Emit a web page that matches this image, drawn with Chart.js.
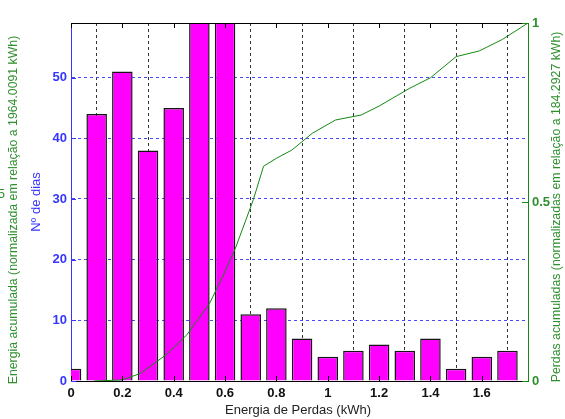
<!DOCTYPE html>
<html><head><meta charset="utf-8">
<script src="https://cdn.jsdelivr.net/npm/chart.js@4.4.1/dist/chart.umd.min.js"></script>
<style>html,body{margin:0;padding:0;background:#fff;}#wrap{width:565px;height:419px;position:relative;}</style>
</head><body><div id="wrap"><canvas id="c" width="565" height="419"></canvas></div>
<script>
// ---- data ----
const binCenters = [0, 0.1, 0.2, 0.3, 0.4, 0.5, 0.6, 0.7, 0.8, 0.9, 1.0, 1.1, 1.2, 1.3, 1.4, 1.5, 1.6, 1.7];
const dayCounts  = [2, 44, 51, 38, 45, 66, 63, 11, 12, 7, 4, 5, 6, 5, 7, 2, 4, 5];
const curveX = [0.09, 0.2, 0.27, 0.37, 0.45, 0.54, 0.59, 0.64, 0.71, 0.75, 0.8, 0.86, 0.94, 1.03, 1.13, 1.2, 1.32, 1.4, 1.5, 1.59, 1.68, 1.78];
const curveY = [0, 0.003, 0.021, 0.073, 0.128, 0.217, 0.291, 0.37, 0.506, 0.6, 0.622, 0.645, 0.692, 0.729, 0.743, 0.768, 0.818, 0.847, 0.906, 0.922, 0.954, 1.0];
const xTicks  = [0, 0.2, 0.4, 0.6, 0.8, 1, 1.2, 1.4, 1.6];
const yTicks  = [0, 10, 20, 30, 40, 50];
const y1Ticks = [0, 0.5, 1];
const xTitle = 'Energia de Perdas (kWh)';
const yTitleBlue = 'Nº de dias';
const yTitleGreen = 'Energia acumulada (normalizada em relação a 1964.0091 kWh)';
const y1Title = 'Perdas acumuladas (normalizadas em relação a 184.2927 kWh)';
const hiddenLeftTick = '0.5';

const FONT = "'Liberation Sans', Arial, sans-serif";
const BLUE = '#3535ff';
const GREEN_TXT = '#2f8f2f';
const GREEN_LINE = '#128a12';

const decor = {
  id: 'decor',
  afterDraw(chart) {
    const {ctx, chartArea: a, scales} = chart;
    ctx.save();
    // top border
    ctx.strokeStyle = '#000'; ctx.lineWidth = 1;
    ctx.beginPath(); ctx.moveTo(a.left, a.top + 0.5); ctx.lineTo(a.right, a.top + 0.5); ctx.stroke();
    // inner tick marks
    ctx.beginPath();
    xTicks.forEach(v => {
      const px = Math.round(scales.x.getPixelForValue(v)) + 0.5;
      ctx.moveTo(px, a.bottom); ctx.lineTo(px, a.bottom - 5);
      ctx.moveTo(px, a.top); ctx.lineTo(px, a.top + 5);
    });
    ctx.stroke();
    ctx.strokeStyle = BLUE; ctx.beginPath();
    yTicks.forEach(v => {
      const py = Math.round(scales.y.getPixelForValue(v)) + 0.5;
      ctx.moveTo(a.left, py); ctx.lineTo(a.left + 5, py);
    });
    ctx.stroke();
    ctx.strokeStyle = GREEN_LINE; ctx.beginPath();
    y1Ticks.forEach(v => {
      const py = Math.round(scales.y1.getPixelForValue(v)) + 0.5;
      ctx.moveTo(a.right, py); ctx.lineTo(a.right - 6, py);
    });
    ctx.stroke();
    // titles
    ctx.textAlign = 'center'; ctx.textBaseline = 'middle';
    ctx.font = '13px ' + FONT;
    ctx.fillStyle = '#222';
    ctx.fillText(xTitle, 298, 410);
    const rot = (txt, x, y, color) => {
      ctx.save(); ctx.translate(x, y); ctx.rotate(-Math.PI / 2);
      ctx.fillStyle = color; ctx.fillText(txt, 0, 0); ctx.restore();
    };
    rot(yTitleBlue, 36, 202, BLUE);
    ctx.font = '12.3px ' + FONT;
    rot(yTitleGreen, 14, 210, GREEN_TXT);
    rot(y1Title, 557, 207, GREEN_TXT);
    // clipped tick label of an off-canvas axis
    ctx.font = '13px ' + FONT;
    ctx.textAlign = 'right'; ctx.fillStyle = GREEN_TXT;
    ctx.fillText(hiddenLeftTick, 5, 194);
    ctx.restore();
  }
};

new Chart(document.getElementById('c'), {
  type: 'bar',
  data: {
    datasets: [
      {
        type: 'line',
        data: curveX.map((x, i) => ({x, y: curveY[i]})),
        xAxisID: 'x', yAxisID: 'y1',
        borderColor: GREEN_LINE, borderWidth: 1,
        pointRadius: 0, tension: 0, fill: false, order: 0
      },
      {
        type: 'bar',
        data: binCenters.map((x, i) => ({x, y: dayCounts[i]})),
        xAxisID: 'x', yAxisID: 'y',
        backgroundColor: '#ff00ff', borderColor: '#151515', borderWidth: 1.5,
        barPercentage: 0.8, categoryPercentage: 1.0, order: 1
      }
    ]
  },
  options: {
    responsive: false, animation: false, devicePixelRatio: 1,
    layout: {padding: {top: 23, left: 0, right: 0, bottom: 0}},
    plugins: {legend: {display: false}, tooltip: {enabled: false}},
    scales: {
      x: {
        type: 'linear', position: 'bottom', min: 0, max: 1.78, offset: false,
        afterBuildTicks: s => { s.ticks = xTicks.map(v => ({value: v})); },
        afterFit: s => { s.height = 38; },
        ticks: {font: {family: FONT, size: 13, weight: 'bold'}, color: '#111', padding: 5,
                maxRotation: 0, autoSkip: false, callback: v => String(v)},
        grid: {color: c => (c.tick && c.tick.value === 0) ? 'rgba(0,0,0,0)' : '#333', lineWidth: 1, drawTicks: false},
        border: {color: '#000', width: 1, dash: [3, 3]}
      },
      y: {
        type: 'linear', position: 'left', min: 0, max: 59,
        afterBuildTicks: s => { s.ticks = yTicks.map(v => ({value: v})); },
        afterFit: s => { s.width = 71; },
        ticks: {font: {family: FONT, size: 13, weight: 'bold'}, color: BLUE, padding: 4, callback: v => String(v)},
        grid: {color: c => (c.tick && c.tick.value === 0) ? 'rgba(0,0,0,0)' : '#4848ff', lineWidth: 1, drawTicks: false},
        border: {color: BLUE, width: 1, dash: [3, 3]}
      },
      y1: {
        type: 'linear', position: 'right', min: 0, max: 1,
        afterBuildTicks: s => { s.ticks = y1Ticks.map(v => ({value: v})); },
        afterFit: s => { s.width = 37; },
        ticks: {font: {family: FONT, size: 13, weight: 'bold'}, color: GREEN_TXT, padding: 4, callback: v => String(v)},
        grid: {drawOnChartArea: false, drawTicks: false},
        border: {color: GREEN_LINE, width: 1}
      }
    }
  },
  plugins: [decor]
});
</script>
</body></html>
